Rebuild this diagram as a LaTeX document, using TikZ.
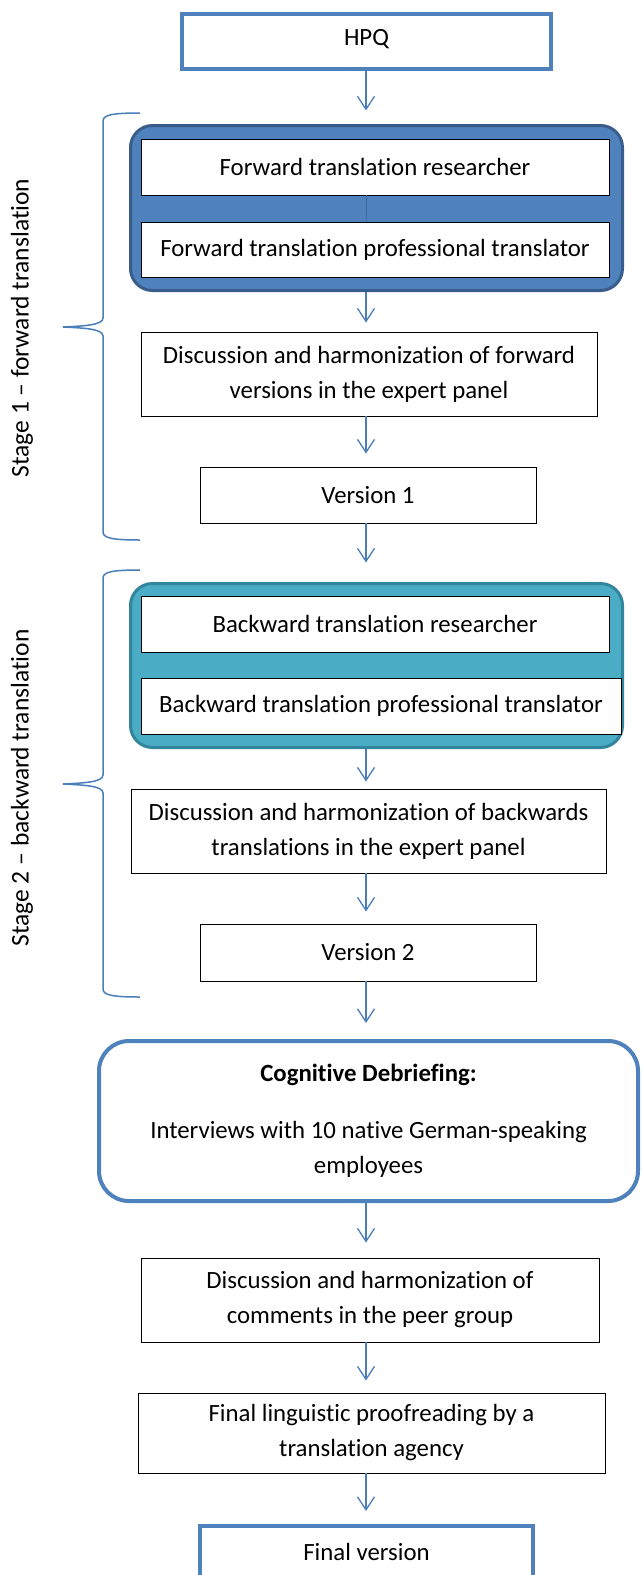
\documentclass[tikz,border=0pt]{standalone}
\usepackage{fontspec}
\setmainfont{Carlito}[Ligatures={TeX,NoCommon}]
\usetikzlibrary{arrows.meta}
\definecolor{accent}{HTML}{4F81BD}
\definecolor{accentdk}{HTML}{385D8A}
\definecolor{tealfill}{HTML}{4BACC6}
\definecolor{tealdk}{HTML}{31859C}
\definecolor{arrowc}{HTML}{4A7EBB}

\begin{document}
\begin{tikzpicture}[x=1pt,y=-1pt,
  txt/.style={font=\fontsize{24.8}{35}\selectfont, align=center, inner sep=0pt},
  plainbox/.style={txt, rectangle, draw=black, line width=0.9pt, fill=white},
  heavybox/.style={txt, rectangle, draw=accent, line width=4pt, fill=white},
  roundbox/.style={txt, rectangle, rounded corners=30pt, draw=accent, line width=4pt, fill=white},
  grpfwd/.style={rectangle, rounded corners=22pt, draw=accentdk, line width=3pt, fill=accent},
  grpbwd/.style={rectangle, rounded corners=22pt, draw=tealdk, line width=3pt, fill=tealfill},
  flow/.style={draw=arrowc, line width=1.3pt, -{Straight Barb[length=13pt,width=17pt]}},
  stagebrace/.style={draw=arrowc, line width=1.5pt},
  stagelbl/.style={font=\fontsize{25.5}{30}\selectfont, rotate=90, inner sep=0pt}]

\useasboundingbox[fill=white] (0,0) rectangle (642,1575);
\coordinate (col) at (366,0);

% top box
\node[heavybox, minimum width=369pt, text height=31pt, text depth=24pt] (hpq) at (366.5,41.5) {HPQ};

% stage 1: forward translation
\node[grpfwd, minimum width=492pt, minimum height=165pt] (fwdgrp) at (376.5,208) {};
\node[plainbox, minimum width=468pt, minimum height=56pt] (fwd1) at (375,167) {Forward translation researcher};
\node[plainbox, minimum width=468pt, minimum height=55pt] (fwd2) at (375,249.5) {Forward translation professional translator};
\draw[accentdk!70!accent, line width=0.8pt] (fwd1.south -| col) -- (fwd2.north -| col);
\node[plainbox, minimum width=456pt, minimum height=84pt] (disc1) at (369,374)
  {Discussion and harmonization of forward\\versions in the expert panel};
\node[plainbox, minimum width=336pt, minimum height=56pt] (ver1) at (368,495) {Version 1};

% stage 2: backward translation
\node[grpbwd, minimum width=492pt, minimum height=164pt] (bwdgrp) at (376.5,665.5) {};
\node[plainbox, minimum width=468pt, minimum height=56pt] (bwd1) at (375,624) {Backward translation researcher};
\node[plainbox, minimum width=480pt, minimum height=56pt] (bwd2) at (381,706) {Backward translation professional translator};
\node[plainbox, minimum width=475pt, minimum height=84pt] (disc2) at (368.5,831)
  {Discussion and harmonization of backwards\\translations in the expert panel};
\node[plainbox, minimum width=336pt, minimum height=57pt] (ver2) at (368,952.5) {Version 2};

% cognitive debriefing and final steps
\node[roundbox, minimum width=539pt, minimum height=160pt] (cog) at (368.5,1121)
  {\textbf{Cognitive Debriefing:}\\[22pt]Interviews with 10 native German-speaking\\employees};
\node[plainbox, minimum width=458pt, minimum height=84pt] (disc3) at (370,1300)
  {Discussion and harmonization of\\comments in the peer group};
\node[plainbox, minimum width=467pt, minimum height=80pt] (ling) at (371.5,1433)
  {Final linguistic proofreading by a\\translation agency};
\node[heavybox, minimum width=333pt, text height=34pt, text depth=56pt, anchor=north] (fin) at (366.5,1524) {Final version};

% flow arrows
\draw[flow, shorten >=13.5pt] (hpq.south -| col) -- (fwdgrp.north -| col);
\draw[flow, shorten >=9pt] (fwdgrp.south -| col) -- (disc1.north -| col);
\draw[flow, shorten >=13pt] (disc1.south -| col) -- (ver1.north -| col);
\draw[flow, shorten >=19.5pt] (ver1.south -| col) -- (bwdgrp.north -| col);
\draw[flow, shorten >=7pt] (bwdgrp.south -| col) -- (disc2.north -| col);
\draw[flow, shorten >=12pt] (disc2.south -| col) -- (ver2.north -| col);
\draw[flow, shorten >=16pt] (ver2.south -| col) -- (cog.north -| col);
\draw[flow, shorten >=15pt] (cog.south -| col) -- (disc3.north -| col);
\draw[flow, shorten >=12pt] (disc3.south -| col) -- (ling.north -| col);
\draw[flow, shorten >=13pt] (ling.south -| col) -- (fin.north -| col);

% stage braces
\draw[stagebrace] (140,113) .. controls (112,113) and (103,115) .. (103,121)
  -- (103,318) .. controls (103,325) and (85,326) .. (63,327)
  .. controls (85,328) and (103,329) .. (103,336)
  -- (103,532) .. controls (103,538) and (112,540) .. (140,540);
\draw[stagebrace] (140,570) .. controls (112,570) and (103,572) .. (103,578)
  -- (103,775) .. controls (103,782) and (85,783) .. (63,784)
  .. controls (85,785) and (103,786) .. (103,793)
  -- (103,989) .. controls (103,995) and (112,997) .. (140,997);

\node[stagelbl] (lbl1) at (22,328) {Stage 1 – forward translation};
\node[stagelbl] (lbl2) at (22,788) {Stage 2 – backward translation};
\end{tikzpicture}
\end{document}
